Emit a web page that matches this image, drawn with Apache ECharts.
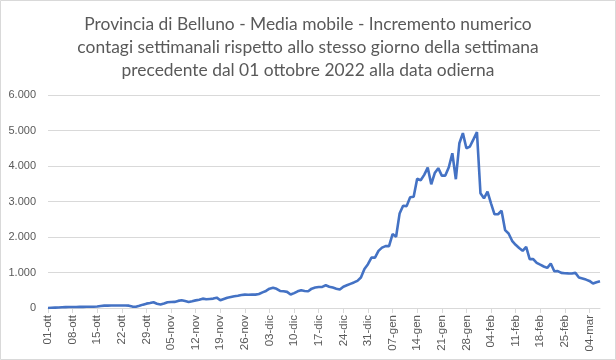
<!DOCTYPE html>
<html><head><meta charset="utf-8">
<script src="https://cdn.jsdelivr.net/npm/echarts@6/dist/echarts.min.js"></script>
<style>html,body{margin:0;padding:0;background:#fff}#c{width:616px;height:360px}</style>
</head><body><div id="c"></div>
<script>
var titleLines = [
  "Provincia di Belluno - Media mobile - Incremento numerico",
  "contagi settimanali rispetto allo stesso giorno della settimana",
  "precedente dal 01 ottobre 2022 alla data odierna"
];
var monthNames = ["gen","feb","mar","apr","mag","giu","lug","ago","set","ott","nov","dic"];
var startDate = [2022, 9, 1];
var values = [
  0,5,10,15,20,24,28,30,30,32,
  33,35,35,37,42,58,68,68,70,70,
  72,70,72,66,40,35,62,95,123,140,
  160,118,100,125,160,170,172,200,217,195,
  170,190,215,235,264,245,255,265,292,220,
  255,290,310,330,345,365,377,375,378,377,
  395,440,480,545,570,540,480,470,455,380,
  420,470,500,480,470,545,575,590,593,640,
  600,575,545,520,600,640,680,720,765,860,
  1100,1234,1420,1420,1610,1700,1743,1743,2082,2006,
  2660,2880,2870,3120,3136,3640,3600,3750,3955,3486,
  3800,3940,3730,3730,3966,4360,3627,4640,4927,4500,
  4548,4750,4955,3232,3090,3277,2949,2640,2640,2740,
  2195,2100,1893,1780,1690,1610,1723,1376,1380,1271,
  1220,1170,1130,1254,1037,1040,989,980,975,972,
  989,857,830,800,763,690,726,754
];
var yTicks = [0,1000,2000,3000,4000,5000,6000];

var categories = [];
for (var i = 0; i < values.length; i++) {
  var d = new Date(startDate[0], startDate[1], startDate[2] + i);
  var dd = d.getDate();
  categories.push((dd < 10 ? "0" + dd : "" + dd) + "-" + monthNames[d.getMonth()]);
}
function fmt(v){ return String(v).replace(/\B(?=(\d{3})+(?!\d))/g, "."); }

var chart = echarts.init(document.getElementById('c'), null, {renderer:'canvas'});
chart.setOption({
  animation:false,
  backgroundColor:'#fff',
  textStyle:{fontFamily:'Lato'},
  title:{
    text: titleLines.join("\n"),
    left:'center', top:8,
    textStyle:{fontFamily:'Lato', fontSize:17.4, fontWeight:'normal', color:'#595959', lineHeight:23}
  },
  graphic:[{type:'rect', shape:{x:0.5,y:0.5,width:615,height:359}, style:{fill:'none', stroke:'#d9d9d9', lineWidth:1}, silent:true}],
  grid:{left:48, right:16, top:95, bottom:52, containLabel:false},
  xAxis:{
    type:'category', data:categories, boundaryGap:false,
    axisLine:{lineStyle:{color:'#d9d9d9'}},
    axisTick:{show:true, interval:6, length:5, lineStyle:{color:'#d9d9d9'}},
    axisLabel:{interval:6, rotate:90, color:'#595959', fontSize:11.5, fontFamily:'Liberation Sans', margin:7},
    splitLine:{show:false}
  },
  yAxis:{
    type:'value', min:yTicks[0], max:yTicks[yTicks.length-1], interval:1000,
    axisLine:{show:false}, axisTick:{show:false},
    axisLabel:{color:'#595959', fontSize:11, fontFamily:'Liberation Sans', margin:12, formatter:fmt},
    splitLine:{lineStyle:{color:'#d9d9d9', width:1}}
  },
  series:[{
    type:'line', data:values, showSymbol:false, smooth:false,
    lineStyle:{color:'#4472C4', width:2.6}, itemStyle:{color:'#4472C4'}
  }]
});
</script></body></html>
